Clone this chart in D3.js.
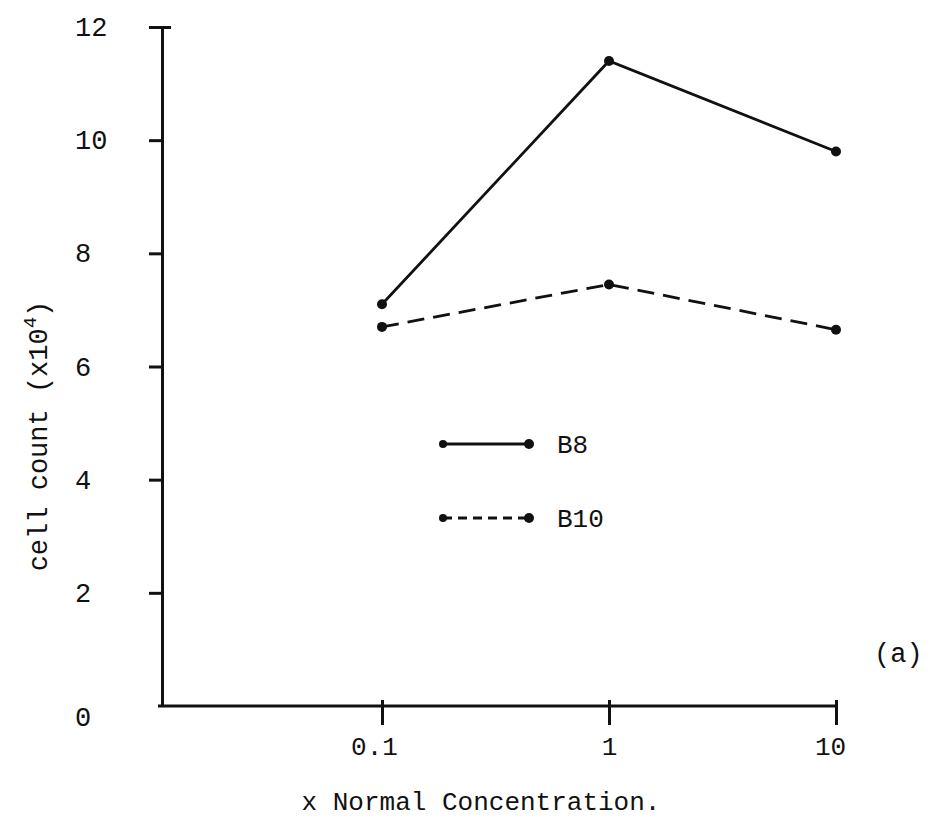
<!DOCTYPE html>
<html>
<head>
<meta charset="utf-8">
<script src="https://cdn.jsdelivr.net/npm/d3@7"></script>
<style>
  html, body { margin: 0; padding: 0; background: #fff; }
  svg { display: block; }
  text { font-family: "Liberation Mono", "DejaVu Sans Mono", monospace; fill: #111; }
</style>
</head>
<body>
<svg id="chart" width="934" height="834"></svg>
<script>
// Cell counts (x10^4) at each multiple of the normal concentration
const concentrations = [0.1, 1, 10];
const concentrationLabels = ["0.1", "1", "10"];
const b8Counts = [7.1, 11.4, 9.8];
const b10Counts = [6.7, 7.45, 6.65];
const countTicks = [0, 2, 4, 6, 8, 10, 12];
const seriesNames = ["B8", "B10"];

const svg = d3.select("#chart");
const ink = "#111";
const fontSize = "26px";

const x = d3.scaleLog().domain([0.1, 10]).range([382, 836]);
const y = d3.scaleLinear().domain([0, 12]).range([706, 27]);
const axisX = 162;

// y axis
const gy = svg.append("g").attr("transform", `translate(${axisX},0)`)
  .call(d3.axisLeft(y).tickValues(countTicks).tickSize(13).tickSizeOuter(0)
    .tickFormat(d3.format("d")));
gy.select(".domain").attr("stroke", ink).attr("stroke-width", 3);
gy.selectAll(".tick line").attr("stroke", ink).attr("stroke-width", 3)
  .attr("x2", d => d === 0 ? 0 : -13)
  .attr("x1", d => d === 12 ? 9 : 0);
gy.selectAll(".tick text")
  .attr("x", -87).attr("text-anchor", "start")
  .attr("dy", d => d === 0 ? "0.72em" : "0.32em")
  .style("font-size", "27px").attr("fill", ink);

// x axis (log scale of concentration)
svg.append("line")
  .attr("x1", axisX - 4).attr("x2", x(10))
  .attr("y1", y(0)).attr("y2", y(0))
  .attr("stroke", ink).attr("stroke-width", 3);
const gx = svg.append("g").attr("transform", `translate(0,${y(0)})`)
  .call(d3.axisBottom(x).tickValues(concentrations).tickSize(19)
    .tickFormat((d, i) => concentrationLabels[i]));
gx.select(".domain").remove();
gx.selectAll(".tick line").attr("stroke", ink).attr("stroke-width", 3).attr("y1", -6);
gx.selectAll(".tick text").attr("y", 31).attr("dx", (d, i) => i === 0 ? -8 : (i === 2 ? -6 : 0))
  .style("font-size", fontSize).attr("fill", ink);

// axis titles
svg.append("text")
  .attr("x", 481).attr("y", 810).attr("text-anchor", "middle")
  .style("font-size", fontSize)
  .text("x Normal Concentration.");

const yTitle = svg.append("text")
  .attr("transform", "translate(47,436) rotate(-90)")
  .attr("text-anchor", "middle")
  .style("font-size", "27px");
yTitle.append("tspan").text("cell count (x10");
yTitle.append("tspan").text("4").style("font-size", "19px").attr("dy", "-11");
yTitle.append("tspan").text(")").attr("dy", "11");

svg.append("text").attr("x", 874).attr("y", 662)
  .style("font-size", "27px").text("(a)");

// series
const series = [
  { name: seriesNames[0], values: b8Counts, dash: null, legendDash: null },
  { name: seriesNames[1], values: b10Counts, dash: "17 9", legendDash: "9 6" }
];
const line = d3.line().x((d, i) => x(concentrations[i])).y(d => y(d));

series.forEach(s => {
  svg.append("path")
    .attr("d", line(s.values))
    .attr("fill", "none").attr("stroke", ink).attr("stroke-width", 2.8)
    .attr("stroke-dasharray", s.dash);
  svg.append("g").selectAll("circle").data(s.values).join("circle")
    .attr("cx", (d, i) => x(concentrations[i]))
    .attr("cy", d => y(d))
    .attr("r", 5).attr("fill", ink);
});

// legend
const legend = svg.append("g").attr("transform", "translate(443,444)");
series.forEach((s, i) => {
  const g = legend.append("g").attr("transform", `translate(0,${i * 74})`);
  g.append("line").attr("x1", 0).attr("x2", 86)
    .attr("stroke", ink).attr("stroke-width", 2.8)
    .attr("stroke-dasharray", s.legendDash);
  g.append("circle").attr("cx", 0).attr("r", 4).attr("fill", ink);
  g.append("circle").attr("cx", 86).attr("r", 5).attr("fill", ink);
  g.append("text").attr("x", 114).attr("dy", "0.35em")
    .style("font-size", fontSize).text(s.name);
});
</script>
</body>
</html>
